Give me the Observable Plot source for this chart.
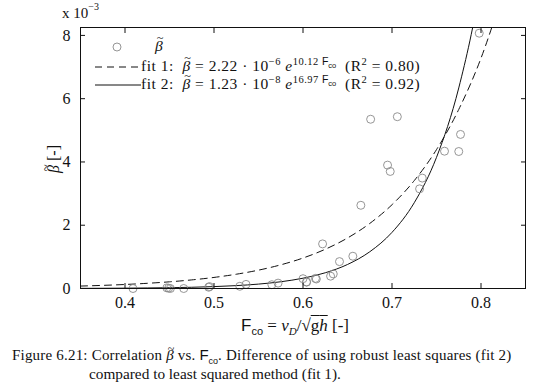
<!DOCTYPE html>
<html><head><meta charset="utf-8">
<script src="https://cdn.jsdelivr.net/npm/d3@7"></script>
<script src="https://cdn.jsdelivr.net/npm/@observablehq/plot@0.6"></script>
<style>
body{margin:0;background:#fff;}
#wrap{position:relative;width:540px;height:385px;font-family:"Liberation Serif","DejaVu Serif",serif;color:#111;}
.ov{position:absolute;white-space:nowrap;line-height:1;}
.sf{font-family:"Liberation Sans","DejaVu Sans",sans-serif;letter-spacing:0;}
sup,sub{line-height:0;}
.bt{position:relative;display:inline-block;font-style:italic;}
.bt::after{content:"~";position:absolute;left:0.14em;top:-0.45em;font-style:normal;font-size:0.8em;}
</style></head>
<body><div id="wrap"></div>
<script>
// scatter data (beta tilde, in units of 1e-3)
const fco = [0.409,0.447,0.449,0.451,0.466,0.494,0.495,0.529,0.536,0.565,0.572,0.600,0.604,0.604,0.614,0.615,0.622,0.631,0.634,0.641,0.656,0.665,0.676,0.695,0.698,0.706,0.731,0.734,0.759,0.775,0.777,0.798];
const beta = [0.00,0.02,0.01,0.00,0.00,0.04,0.06,0.07,0.13,0.12,0.17,0.31,0.21,0.20,0.32,0.30,1.41,0.39,0.46,0.85,1.02,2.63,5.35,3.90,3.70,5.43,3.15,3.49,4.34,4.33,4.87,8.07];
// fit curves (units 1e-3)
const fitX = [0.35,0.375,0.40,0.425,0.45,0.475,0.50,0.525,0.55,0.575,0.60,0.625,0.65,0.675,0.70,0.725,0.75,0.775,0.80,0.825];
const fit1Y = [0.077,0.099,0.127,0.164,0.211,0.272,0.350,0.451,0.580,0.748,0.963,1.240,1.596,2.056,2.648,3.41,4.39,5.66,7.28,9.38];
const fit2Y = [0.005,0.007,0.011,0.017,0.026,0.039,0.060,0.091,0.139,0.213,0.325,0.497,0.759,1.161,1.774,2.711,4.145,6.34,9.68,14.8];
const xTicks = [0.4,0.5,0.6,0.7,0.8];
const yTicks = [0,2,4,6,8];

const pts = fco.map((x,i)=>({x, y: beta[i]}));
const f1 = fitX.map((x,i)=>({x, y: fit1Y[i]}));
const f2 = fitX.map((x,i)=>({x, y: fit2Y[i]}));

const chart = Plot.plot({
  width: 540, height: 335,
  marginLeft: 80, marginRight: 15, marginTop: 27, marginBottom: 47,
  style: {fontFamily: '"Liberation Serif", serif', fontSize: "16px", color: "#111", background: "transparent"},
  x: {domain: [0.35, 0.85]},
  y: {domain: [0, 8.25]},
  marks: [
    Plot.line(f1, {x: "x", y: "y", stroke: "#111", strokeWidth: 1, strokeDasharray: "7,5", curve: "monotone-x", clip: true}),
    Plot.line(f2, {x: "x", y: "y", stroke: "#111", strokeWidth: 1, curve: "monotone-x", clip: true}),
    Plot.dot(pts, {x: "x", y: "y", r: 4, stroke: "#8a8a8a", strokeWidth: 0.9, fill: "none"}),
    Plot.frame({stroke: "#111", strokeWidth: 1}),
    Plot.axisX(xTicks, {anchor: "bottom", tickSize: 5, dy: -5, fill: "none", label: null}),
    Plot.axisX(xTicks, {anchor: "top", tickSize: 5, dy: 5, fill: "none", label: null}),
    Plot.axisY(yTicks, {anchor: "left", tickSize: 5, dx: 5, fill: "none", label: null}),
    Plot.axisY(yTicks, {anchor: "right", tickSize: 5, dx: -5, fill: "none", label: null}),
    Plot.axisX(xTicks, {anchor: "bottom", tickSize: 0, tickPadding: 8, label: null, tickFormat: d => d.toFixed(1), fontSize: 16}),
    Plot.axisY(yTicks, {anchor: "left", tickSize: 0, tickPadding: 10, label: null, fontSize: 16})
  ]
});
const wrap = document.getElementById("wrap");
wrap.appendChild(chart);

const BT = '<span class="bt">&beta;</span>';
function ov(html, style){
  const d = document.createElement("div");
  d.className = "ov";
  d.innerHTML = html;
  d.setAttribute("style", style);
  wrap.appendChild(d);
  return d;
}
// exponent label
ov('x 10<sup style="font-size:10px;position:relative;top:-2px">&minus;3</sup>', 'left:62px;top:6px;font-size:15px;');
// y label
ov(BT + ' [-]', 'left:40px;top:151px;font-size:16px;transform:rotate(-90deg);transform-origin:center;');
// x label
ov('<span class="sf">F<sub style="font-size:11px">co</sub></span> = <i>v<sub style="font-size:11px">D</sub></i>/&radic;<span style="text-decoration:overline">g<i>h</i></span> [-]', 'left:0;width:590px;text-align:center;top:317px;font-size:17px;');
// legend
const lg = 'font-size:15.5px;letter-spacing:0.5px;';
ov('<svg width="60" height="12" style="vertical-align:middle"><circle cx="22" cy="6" r="4" fill="none" stroke="#8a8a8a" stroke-width="0.9"/></svg>' + BT, 'left:95px;top:38px;' + lg);
ov('<svg width="46" height="12" style="vertical-align:middle"><line x1="0" y1="6" x2="46" y2="6" stroke="#111" stroke-dasharray="7,5"/></svg>fit 1:&nbsp; ' + BT + ' = 2.22 &middot; 10<sup style="font-size:10.5px">&minus;6</sup> <i>e</i><sup style="font-size:10.5px">10.12 <span class="sf">F<sub style="font-size:7.5px">co</sub></span></sup>&nbsp; (R<sup style="font-size:10.5px">2</sup> = 0.80)', 'left:95px;top:58px;' + lg);
ov('<svg width="46" height="12" style="vertical-align:middle"><line x1="0" y1="6" x2="46" y2="6" stroke="#111"/></svg>fit 2:&nbsp; ' + BT + ' = 1.23 &middot; 10<sup style="font-size:10.5px">&minus;8</sup> <i>e</i><sup style="font-size:10.5px">16.97 <span class="sf">F<sub style="font-size:7.5px">co</sub></span></sup>&nbsp; (R<sup style="font-size:10.5px">2</sup> = 0.92)', 'left:95px;top:76px;' + lg);
// caption
ov('Figure 6.21: Correlation ' + BT + ' vs. <span class="sf">F<sub style="font-size:9px">co</sub></span>. Difference of using robust least squares (fit 2)', 'left:12px;top:347px;font-size:15px;letter-spacing:0.2px;');
ov('compared to least squared method (fit 1).', 'left:89px;top:366px;font-size:15.3px;');
</script></body></html>
